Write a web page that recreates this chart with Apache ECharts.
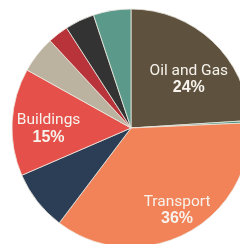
<!DOCTYPE html>
<html>
<head>
<meta charset="utf-8">
<script src="https://cdn.jsdelivr.net/npm/echarts@6/dist/echarts.min.js"></script>
<style>
html,body{margin:0;padding:0;background:#fff;}
#c{width:240px;height:244px;}
</style>
</head>
<body>
<div id="c"></div>
<script>
const categories = ['Oil and Gas', 'Other A', 'Transport', 'Other B', 'Buildings', 'Other C', 'Other D', 'Other E', 'Other F'];
const values = [24, 0.3, 36, 8.2, 14.6, 5, 2.8, 4, 5.1];
const percentLabels = ['24%', '', '36%', '', '15%', '', '', '', ''];
const showLabel = [true, false, true, false, true, false, false, false, false];
const colors = ['#5e523f', '#3d8a78', '#f28257', '#2c3e56', '#e5504a', '#bbb29f', '#b9343a', '#333333', '#5b9a8a'];

const labelShift = {0: [15, -3], 2: [17, 27], 4: [-20, 4]};

const data = categories.map((c, i) => ({
  name: c,
  value: values[i],
  itemStyle: {color: colors[i]},
  label: {show: showLabel[i]}
}));

const chart = echarts.init(document.getElementById('c'), null, {renderer: 'canvas'});
chart.setOption({
  animation: false,
  series: [{
    type: 'pie',
    center: [131, 128],
    radius: [0, 119],
    startAngle: 90,
    clockwise: true,
    data: data,
    itemStyle: {borderColor: '#ece8df', borderWidth: 0.8},
    emphasis: {disabled: true},
    labelLine: {show: false},
    label: {
      position: 'inside',
      formatter: p => '{n|' + p.name + '}\n{p|' + percentLabels[p.dataIndex] + '}',
      rich: {
        n: {fontFamily: 'Roboto, sans-serif', fontSize: 15.5, color: '#f7f3ec', lineHeight: 17, align: 'center'},
        p: {fontFamily: '"Liberation Sans", sans-serif', fontWeight: 'bold', fontSize: 16, color: '#f7f3ec', lineHeight: 17, align: 'center'}
      }
    },
    labelLayout: function (params) {
      const s = labelShift[params.dataIndex];
      return s ? {dx: s[0], dy: s[1]} : {};
    }
  }]
});
</script>
</body>
</html>
